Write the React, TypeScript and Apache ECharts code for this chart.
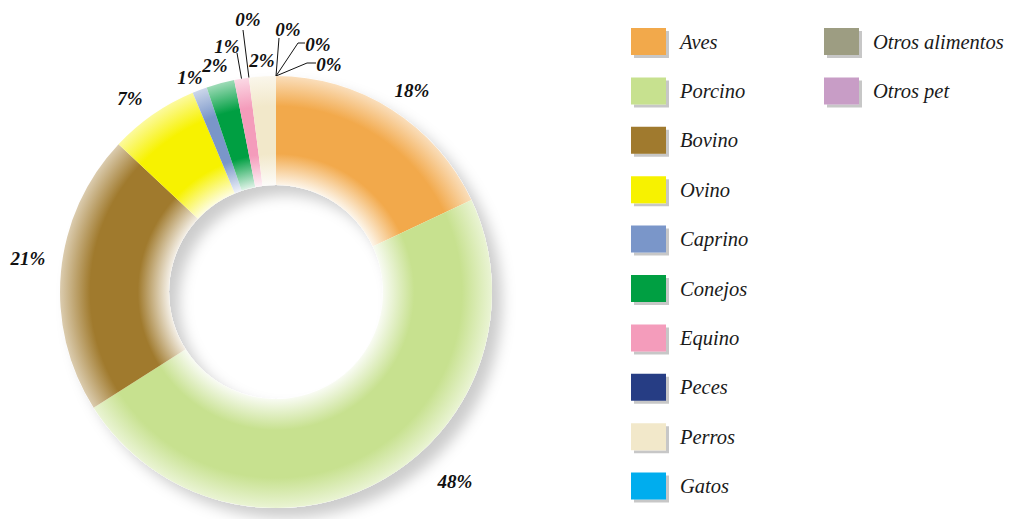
import React, { useEffect, useRef } from "react";
import * as echarts from "echarts";

const names = [
  "Aves",
  "Porcino",
  "Bovino",
  "Ovino",
  "Caprino",
  "Conejos",
  "Equino",
  "Peces",
  "Perros",
  "Gatos",
  "Otros alimentos",
  "Otros pet",
];
const values = [18, 48, 21, 6.7, 1.1, 2.1, 1.1, 0, 2.0, 0, 0, 0];
const colors = [
  "#F2A94B",
  "#C7E18F",
  "#A07A2D",
  "#F7F200",
  "#7A96C9",
  "#009F42",
  "#F49CBB",
  "#283C84",
  "#F2E8CA",
  "#00ADEE",
  "#9D9D82",
  "#C89DC6",
];

// label placement (offsets from pie centre, px) – layout, not data
const labelSpots: number[][] = [
  [136, -202],
  [179, 189],
  [-248, -34],
  [-146, -194],
  [-86, -215],
  [-61, -227],
  [-49, -246],
  [-28, -273],
  [-14, -232],
  [12, -263],
  [42, -248],
  [53, -228],
];
// leader line bends/ends (offsets from pie centre), null = no leader
const leaderPts: (number[][] | null)[] = [
  null,
  null,
  null,
  null,
  null,
  null,
  [[-39, -239]],
  [[-33, -262]],
  null,
  [[3, -254]],
  [[22, -249], [29, -249]],
  [[31, -229], [40, -229]],
];

const CX = 276;
const CY = 292;
const R0 = 107;
const R1 = 216;
const SERIF = "Liberation Serif";

function mix(hex: string, t: number) {
  const n = parseInt(hex.slice(1), 16);
  const r = (n >> 16) & 255;
  const g = (n >> 8) & 255;
  const b = n & 255;
  const f = (c: number) => Math.round(c + (255 - c) * t);
  return `rgb(${f(r)},${f(g)},${f(b)})`;
}

function grad(hex: string) {
  return {
    type: "radial",
    x: CX,
    y: CY,
    r: R1,
    global: true,
    colorStops: [
      { offset: 0, color: mix(hex, 0.88) },
      { offset: R0 / R1, color: mix(hex, 0.88) },
      { offset: 0.64, color: hex },
      { offset: 0.86, color: hex },
      { offset: 1, color: mix(hex, 0.62) },
    ],
  };
}

export default function App() {
  const ref = useRef<HTMLDivElement>(null);
  useEffect(() => {
    document.body.style.margin = "0";
    const chart = echarts.init(ref.current!, undefined, { renderer: "svg" });
    const total = values.reduce((a, b) => a + b, 0);
    const cum: number[] = [];
    let acc = 0;
    values.forEach((v) => {
      cum.push(acc + v / 2);
      acc += v;
    });
    const midAngle = (i: number) => (cum[i] / total) * 2 * Math.PI;

    const legendBase = {
      orient: "vertical",
      top: 28,
      itemWidth: 35,
      itemHeight: 27,
      itemGap: 22.4,
      padding: 0,
      selectedMode: false,
      icon: "rect",
      itemStyle: {
        shadowColor: "rgba(0,0,0,0.22)",
        shadowBlur: 0,
        shadowOffsetX: 3,
        shadowOffsetY: 3,
      },
      textStyle: {
        fontFamily: SERIF,
        fontStyle: "italic",
        fontSize: 20.5,
        color: "#1a1a1a",
        padding: [3, 0, 0, 9],
      },
    };
    const legendItems = names.map((n, i) => ({
      name: n,
      itemStyle: { color: colors[i] },
    }));

    chart.setOption({
      animation: false,
      backgroundColor: "#ffffff",
      legend: [
        { ...legendBase, left: 631, data: legendItems.slice(0, 10) },
        { ...legendBase, left: 824, data: legendItems.slice(10) },
      ],
      series: [
        {
          type: "pie",
          z: 1,
          silent: true,
          center: [CX, CY],
          radius: [R0, R1],
          label: { show: false },
          labelLine: { show: false },
          data: [
            {
              value: 1,
              name: "_shadow",
              itemStyle: {
                color: "#ffffff",
                shadowBlur: 14,
                shadowColor: "rgba(0,0,0,0.2)",
                shadowOffsetX: 10,
                shadowOffsetY: 10,
              },
            },
          ],
        },
        {
          type: "pie",
          z: 2,
          center: [CX, CY],
          radius: [R0, R1],
          startAngle: 90,
          clockwise: true,
          avoidLabelOverlap: false,
          label: {
            show: true,
            position: "outside",
            fontFamily: SERIF,
            fontStyle: "italic",
            fontWeight: "bold",
            fontSize: 19,
            color: "#111",
            formatter: (p: any) => `${Math.round(p.percent)}%`,
          },
          labelLine: {
            show: false,
            lineStyle: { color: "#111", width: 1 },
          },
          labelLayout: (p: any) => {
            const i = p.dataIndex;
            const s = labelSpots[i];
            const res: any = {
              x: CX + s[0],
              y: CY + s[1],
              align: "center",
              verticalAlign: "middle",
            };
            const lp = leaderPts[i];
            if (lp) {
              const a = midAngle(i);
              const start = [CX + R1 * Math.sin(a), CY - R1 * Math.cos(a)];
              const pts = lp.map((q) => [CX + q[0], CY + q[1]]);
              if (pts.length === 1) pts.unshift(pts[0].slice());
              res.labelLinePoints = [start, ...pts];
            }
            return res;
          },
          data: names.map((n, i) => ({
            name: n,
            value: values[i],
            itemStyle: { color: grad(colors[i]) },
            labelLine: { show: !!leaderPts[i] },
          })),
        },
      ],
    });
    return () => chart.dispose();
  }, []);
  return <div ref={ref} style={{ width: 1013, height: 519 }} />;
}
